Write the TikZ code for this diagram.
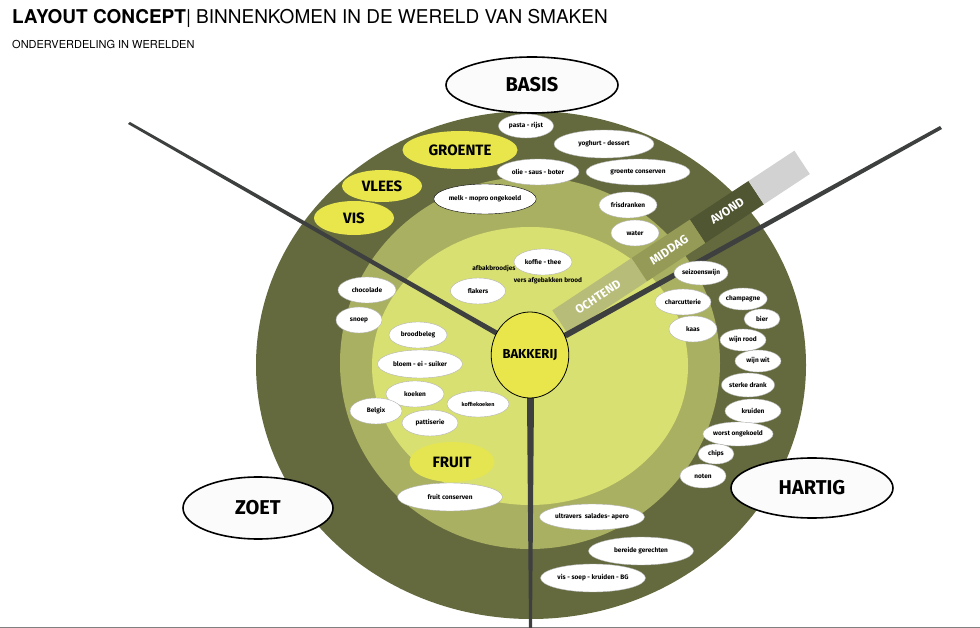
\documentclass[tikz,border=0pt]{standalone}
\usepackage{fontspec}
\usetikzlibrary{shapes.geometric}
\setmainfont{TeX Gyre Heros}
\newfontfamily\markerfont{Fira Sans}
\definecolor{olivedark}{HTML}{646A3E}
\definecolor{olivemid}{HTML}{AAB061}
\definecolor{olivelight}{HTML}{D8E072}
\definecolor{bakyellow}{HTML}{E8E64A}
\definecolor{spokegray}{HTML}{3E4040}
\begin{document}
\begin{tikzpicture}[x=1pt,y=-1pt,
    item/.style={ellipse,fill=white,draw=gray!60,line width=0.4pt,inner sep=0pt,
      font=\markerfont\bfseries\fontsize{6.5}{7}\selectfont},
    world/.style={ellipse,fill=bakyellow,inner sep=0pt,
      font=\markerfont\bfseries\fontsize{15}{16}\selectfont},
    taste/.style={ellipse,fill=white!97!gray,draw=black,line width=1.6pt,inner sep=0pt,
      font=\markerfont\bfseries\fontsize{20}{22}\selectfont},
    daypart/.style={text=white,rotate=33.4,inner sep=0pt,font=\markerfont\bfseries\fontsize{12}{13}\selectfont}]
  \useasboundingbox (0,0) rectangle (980,628);
  % titel
  \node[anchor=west,inner sep=0pt] (title) at (12,18) {\fontsize{19}{20}\selectfont\textbf{LAYOUT CONCEPT}| BINNENKOMEN IN DE WERELD VAN SMAKEN};
  \node[anchor=west,inner sep=0pt] (subtitle) at (12,44) {\fontsize{11}{12}\selectfont ONDERVERDELING IN WERELDEN};
  \draw[gray,line width=1pt] (0,627) -- (980,627);
  % ringen
  \fill[olivedark] (531,365) ellipse (275 and 254);
  \fill[olivemid] (530,363) ellipse (190 and 186);
  \fill[olivelight] (530,366) ellipse (158 and 139);
  % dagdelen
  \begin{scope}[shift={(560,322)},rotate=33.4]
    \fill[olivemid!85!white] (0,-14) rectangle (95,14);
    \fill[olivemid!70!olivedark] (95,-14) rectangle (165,14);
    \fill[olivedark!80!black] (165,-14) rectangle (235,14);
    \fill[gray!35] (235,-14) rectangle (290,14);
  \end{scope}
  \node[daypart] (ochtend) at (598,297) {OCHTEND};
  \node[daypart] (middag) at (669,250) {MIDDAG};
  \node[daypart] (avond) at (727,211) {AVOND};
  % spaken
  \fill[spokegray] (128,124) -- (130,122) -- (505,335) -- (500,338) -- cycle;
  \fill[spokegray] (940,126) -- (942,129) -- (567,338) -- (562,334) -- cycle;
  \fill[spokegray] (527,398) -- (534,398) -- (532,628) -- (529,628) -- cycle;
  % kern
  \node[world,draw=black,line width=0.8pt,minimum width=76,minimum height=86,
    font=\markerfont\bfseries\fontsize{13}{14}\selectfont] (bakkerij) at (530,355) {BAKKERIJ};
  % werelden
  \node[taste,minimum width=172,minimum height=56] (basis) at (532,85) {BASIS};
  \node[taste,minimum width=150,minimum height=62] (zoet) at (258,508) {ZOET};
  \node[taste,minimum width=162,minimum height=60] (hartig) at (812,488) {HARTIG};
  \node[world,minimum width=115,minimum height=38] (groente) at (460,150) {GROENTE};
  \node[world,minimum width=80,minimum height=32] (vlees) at (382,186) {VLEES};
  \node[world,minimum width=80,minimum height=34] (vis) at (354,218) {VIS};
  \node[world,fill=bakyellow!80!olivelight,minimum width=85,minimum height=40] (fruit) at (452,462) {FRUIT};
  % producten
  \node[item,minimum width=55,minimum height=24] (pasta) at (526,126) {pasta - rijst};
  \node[item,minimum width=100,minimum height=28] (yoghurt) at (604,144) {yoghurt - dessert};
  \node[item,minimum width=82,minimum height=26] (olie) at (538,172) {olie - saus - boter};
  \node[item,minimum width=104,minimum height=26] (groenteconserven) at (638,172) {groente conserven};
  \node[item,draw=black,minimum width=100,minimum height=30] (melk) at (485,199) {melk - mopro ongekoeld};
  \node[item,minimum width=58,minimum height=26] (frisdranken) at (628,205) {frisdranken};
  \node[item,minimum width=48,minimum height=26] (water) at (635,233) {water};
  \node[item,minimum width=58,minimum height=26] (koffie) at (543,262) {koffie - thee};
  \node[item,minimum width=55,minimum height=26] (flakers) at (478,291) {flakers};
  \node[font=\markerfont\bfseries\fontsize{6.5}{7}\selectfont,inner sep=0pt] (afbak) at (494,269) {afbakbroodjes};
  \node[font=\markerfont\bfseries\fontsize{6.5}{7}\selectfont,inner sep=0pt] (vers) at (548,281) {vers afgebakken brood};
  \node[item,minimum width=58,minimum height=26] (chocolade) at (367,290) {chocolade};
  \node[item,minimum width=46,minimum height=26] (snoep) at (359,320) {snoep};
  \node[item,minimum width=58,minimum height=26] (broodbeleg) at (418,335) {broodbeleg};
  \node[item,minimum width=85,minimum height=28] (bloem) at (420,364) {bloem - ei - suiker};
  \node[item,minimum width=58,minimum height=26] (koeken) at (415,394) {koeken};
  \node[item,minimum width=62,minimum height=26,font=\markerfont\bfseries\fontsize{5.5}{6}\selectfont] (koffiekoeken) at (478,404) {koffiekoeken};
  \node[item,minimum width=52,minimum height=26] (belgix) at (376,411) {Belgix};
  \node[item,minimum width=56,minimum height=26] (pattiserie) at (430,423) {pattiserie};
  \node[item,minimum width=105,minimum height=28] (fruitconserven) at (450,497) {fruit conserven};
  \node[item,minimum width=105,minimum height=26] (ultravers) at (592,517) {ultravers\ \ salades- apero};
  \node[item,minimum width=105,minimum height=28] (bereide) at (641,551) {bereide gerechten};
  \node[item,minimum width=105,minimum height=28] (vissoep) at (593,578) {vis - soep - kruiden - BG};
  \node[item,minimum width=56,minimum height=26] (charcutterie) at (683,302) {charcutterie};
  \node[item,minimum width=48,minimum height=26] (kaas) at (693,329) {kaas};
  \node[item,minimum width=54,minimum height=24] (seizoenswijn) at (701,273) {seizoenswijn};
  \node[item,minimum width=46,minimum height=22] (champagne) at (743,299) {champagne};
  \node[item,minimum width=36,minimum height=20] (bier) at (762,319) {bier};
  \node[item,minimum width=46,minimum height=22] (wijnrood) at (743,340) {wijn rood};
  \node[item,minimum width=46,minimum height=22] (wijnwit) at (758,361) {wijn wit};
  \node[item,minimum width=53,minimum height=24] (sterke) at (748,385) {sterke drank};
  \node[item,minimum width=56,minimum height=24] (kruiden) at (753,411) {kruiden};
  \node[item,minimum width=70,minimum height=24] (worst) at (738,434) {worst ongekoeld};
  \node[item,minimum width=36,minimum height=20] (chips) at (716,454) {chips};
  \node[item,minimum width=46,minimum height=24] (noten) at (703,476) {noten};
\end{tikzpicture}
\end{document}
